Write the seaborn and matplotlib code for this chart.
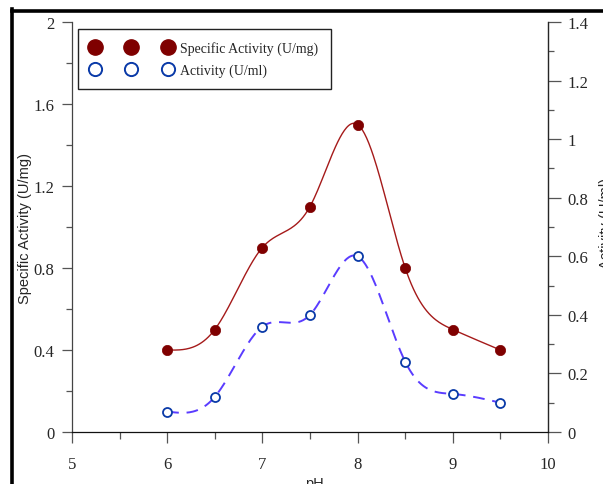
import numpy as np
import matplotlib
matplotlib.use("Agg")
import matplotlib.pyplot as plt
import seaborn as sns
from matplotlib.lines import Line2D

ph = [6, 6.5, 7, 7.5, 8, 8.5, 9, 9.5]
specific_activity = [0.4, 0.5, 0.9, 1.1, 1.5, 0.8, 0.5, 0.4]
activity = [0.07, 0.12, 0.36, 0.40, 0.60, 0.24, 0.13, 0.10]
x_ticks = [5, 6, 7, 8, 9, 10]
y1_ticks = [0, 0.4, 0.8, 1.2, 1.6, 2]
y2_ticks = [0, 0.2, 0.4, 0.6, 0.8, 1, 1.2, 1.4]


def natural_spline(x, y, n=300):
    x = np.asarray(x, float); y = np.asarray(y, float)
    k = len(x); h = np.diff(x)
    A = np.zeros((k, k)); b = np.zeros(k)
    A[0, 0] = A[-1, -1] = 1
    for i in range(1, k - 1):
        A[i, i - 1] = h[i - 1]; A[i, i] = 2 * (h[i - 1] + h[i]); A[i, i + 1] = h[i]
        b[i] = 3 * ((y[i + 1] - y[i]) / h[i] - (y[i] - y[i - 1]) / h[i - 1])
    c = np.linalg.solve(A, b)
    xs = np.linspace(x[0], x[-1], n); ys = np.empty_like(xs)
    for j, xv in enumerate(xs):
        i = min(np.searchsorted(x, xv, side="right") - 1, k - 2)
        d = xv - x[i]
        bi = (y[i + 1] - y[i]) / h[i] - h[i] * (2 * c[i] + c[i + 1]) / 3
        di = (c[i + 1] - c[i]) / (3 * h[i])
        ys[j] = y[i] + bi * d + c[i] * d ** 2 + di * d ** 3
    return xs, ys


sns.set_style("ticks")
plt.rcParams["font.family"] = ["Liberation Serif", "DejaVu Serif"]
plt.rcParams["xtick.direction"] = "out"
plt.rcParams["ytick.direction"] = "out"

fig = plt.figure(figsize=(6.03, 4.85), dpi=100)
ax = fig.add_axes([72 / 603, 52 / 485, 476 / 603, 410 / 485])
ax2 = ax.twinx()

red_line = "#a51a1a"
red_mark = "#7f0000"
blue_line = "#5a3cff"
blue_mark = "#0a3aa8"

xs1, ys1 = natural_spline(ph, specific_activity)
sns.lineplot(x=xs1, y=ys1, ax=ax, color=red_line, linewidth=1.0, sort=False)
sns.scatterplot(x=ph, y=specific_activity, ax=ax, color=red_mark, s=55,
                edgecolor=red_mark, linewidth=0.5, zorder=5)

xs2, ys2 = natural_spline(ph, activity)
ax2.plot(xs2, ys2, color=blue_line, linewidth=1.4, linestyle=(0, (6, 4)))
ax2.scatter(ph, activity, s=42, facecolors="white", edgecolors=blue_mark,
            linewidths=1.3, zorder=5)

ax.set_xlim(5, 10)
ax.set_ylim(0, 2)
ax2.set_ylim(0, 1.4)
ax.set_xticks(x_ticks)
ax.set_xticklabels([str(t) for t in x_ticks])
ax.set_yticks(y1_ticks)
ax.set_yticklabels(["0", "0.4", "0.8", "1.2", "1.6", "2"])
ax2.set_yticks(y2_ticks)
ax2.set_yticklabels(["0", "0.2", "0.4", "0.6", "0.8", "1", "1.2", "1.4"])
ax.set_xticks(np.arange(5.5, 10, 1.0), minor=True)
ax.set_yticks(np.arange(0.2, 2, 0.4), minor=True)
ax2.set_yticks(np.arange(0.1, 1.4, 0.2), minor=True)

for a in (ax, ax2):
    a.tick_params(which="major", length=7.5, width=0.9, color="#555555", labelsize=12, pad=5)
    a.tick_params(which="minor", length=4.5, width=0.9, color="#555555")
    for s in a.spines.values():
        s.set_linewidth(0.9)
ax.tick_params(axis="x", which="major", length=8, pad=9)
ax.tick_params(axis="x", which="minor", length=5)
ax2.tick_params(axis="y", which="major", length=9)
ax.spines["top"].set_visible(False)
ax2.spines["top"].set_visible(False)
ax.spines["left"].set_color("#444444")
ax2.spines["right"].set_color("#666666")
ax.spines["bottom"].set_color("#111111")
ax2.spines["bottom"].set_visible(False)
ax2.spines["left"].set_visible(False)

ax.set_xlabel("pH", family=["Liberation Sans"], fontsize=10.5)
ax.xaxis.set_label_coords(0.51, -0.108)
ax.set_ylabel("Specific Activity (U/mg)", family=["Liberation Sans"], fontsize=10.5)
ax.yaxis.set_label_coords(-0.084, 0.5)
ax2.set_ylabel("Activity (U/ml)", family=["Liberation Sans"], fontsize=10.5, rotation=90)
ax2.yaxis.set_label_coords(1.107, 0.51)

handles = [
    Line2D([], [], linestyle="none", marker="o", markersize=11, color=red_mark,
           markeredgecolor=red_mark),
    Line2D([], [], linestyle="none", marker="o", markersize=9.5, markerfacecolor="white",
           markeredgecolor=blue_mark, markeredgewidth=1.4),
]
leg = ax.legend(handles, ["Specific Activity (U/mg)", "Activity (U/ml)"], numpoints=3,
                loc="upper left", bbox_to_anchor=(6 / 476, 1 - 7 / 410), fancybox=False,
                framealpha=1, edgecolor="#222222", fontsize=10, handlelength=5.9,
                handletextpad=0.55, labelspacing=0.55, borderpad=0.9, borderaxespad=0)
leg.get_frame().set_linewidth(1.0)
ax.set_zorder(ax2.get_zorder() + 1)
ax.patch.set_visible(False)
ax2.set_zorder(0)

# thick frame fragment on left and top
fig.add_artist(Line2D([11.5 / 603, 11.5 / 603], [0, 1 - 10 / 485], transform=fig.transFigure,
                      color="black", linewidth=2.6, solid_capstyle="projecting"))
fig.add_artist(Line2D([11.5 / 603, 1], [1 - 11.5 / 485, 1 - 11.5 / 485], transform=fig.transFigure,
                      color="black", linewidth=2.6, solid_capstyle="projecting"))

fig.savefig("out.png", dpi=100)
